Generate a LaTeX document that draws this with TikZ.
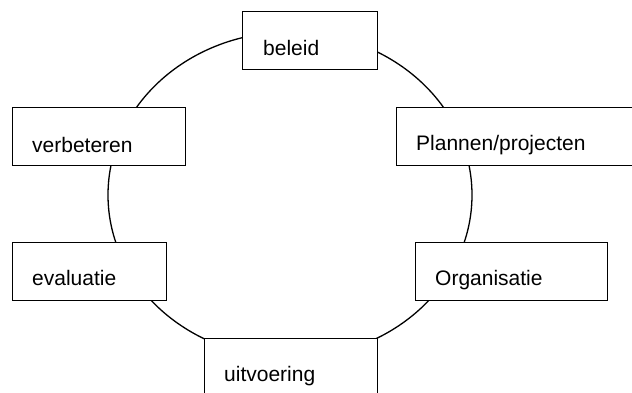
\documentclass[tikz,border=0pt]{standalone}
\usepackage{fontspec}
\setmainfont{Liberation Sans}
\begin{document}
\begin{tikzpicture}[x=1pt,y=-1pt,
  box/.style={draw, line width=1.4pt, fill=white, rectangle, inner sep=0pt, anchor=north west},
  lbl/.style={anchor=base west, inner sep=0pt, font=\fontsize{21}{25}\selectfont}]
\useasboundingbox (0,0) rectangle (632,392);
\draw[line width=1.3pt] (290,195) ellipse [x radius=182pt, y radius=163pt];
\node[box, minimum width=135pt, minimum height=58pt] (beleid) at (242,11) {};
\node[box, minimum width=173pt, minimum height=58pt] (verbeteren) at (12,107) {};
\node[box, minimum width=240pt, minimum height=58pt] (plannen) at (396,107) {};
\node[box, minimum width=154pt, minimum height=58pt] (evaluatie) at (12,242) {};
\node[box, minimum width=192pt, minimum height=58pt] (organisatie) at (415,242) {};
\node[box, minimum width=173pt, minimum height=70pt] (uitvoering) at (204,338) {};
\node[lbl] (tbeleid) at (263,55) {beleid};
\node[lbl] (tverbeteren) at (32,152) {verbeteren};
\node[lbl] (tplannen) at (416,150) {Plannen/projecten};
\node[lbl] (tevaluatie) at (32,285) {evaluatie};
\node[lbl] (torganisatie) at (435,285) {Organisatie};
\node[lbl] (tuitvoering) at (224,381) {uitvoering};
\end{tikzpicture}
\end{document}
